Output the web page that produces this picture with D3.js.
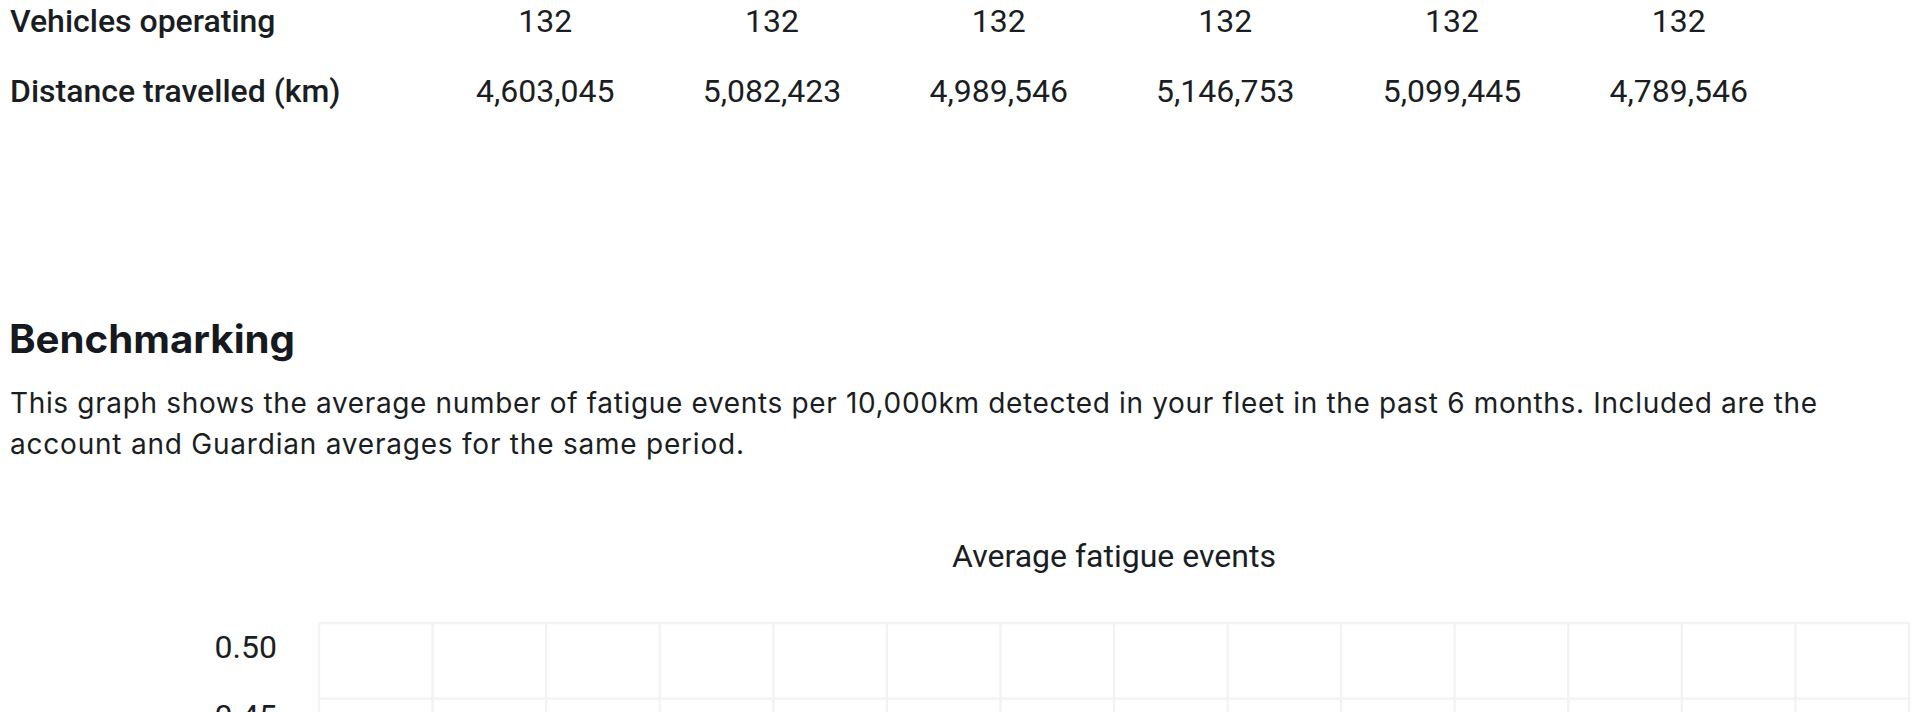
<!DOCTYPE html>
<html>
<head>
<meta charset="utf-8">
<script src="https://cdn.jsdelivr.net/npm/d3@7"></script>
<style>
  html, body { margin: 0; padding: 0; background: #ffffff; width: 1918px; height: 712px; overflow: hidden; }
  svg { display: block; }
</style>
</head>
<body>
<svg id="page" width="1918" height="712"></svg>
<script>
// ---------- data ----------
const rowLabels = ["Vehicles operating", "Distance travelled (km)"];
const vehiclesOperating = [132, 132, 132, 132, 132, 132];
const distanceTravelled = [4603045, 5082423, 4989546, 5146753, 5099445, 4789546];
const sectionTitle = "Benchmarking";
const descriptionLines = [
  "This graph shows the average number of fatigue events per 10,000km detected in your fleet in the past 6 months. Included are the",
  "account and Guardian averages for the same period."
];
const chartTitle = "Average fatigue events";
const yTickValues = [0.45, 0.50];
const xGridSteps = d3.range(0, 15); // 14 grid columns

// ---------- drawing ----------
const ink = "#1a1e23";
const svg = d3.select("#page");

// summary table
const tableRows = [vehiclesOperating, distanceTravelled];
const colX = d3.scaleBand().domain(d3.range(vehiclesOperating.length)).range([432, 1792]);
const rowY = d3.scalePoint().domain(rowLabels).range([32, 101.5]);
const fmt = d3.format(",");

const table = svg.append("g").attr("class", "table");
rowLabels.forEach((label, i) => {
  table.append("text")
    .attr("x", 10).attr("y", rowY(label))
    .attr("font-family", "Roboto").attr("font-weight", 500).attr("font-size", 32)
    .attr("fill", ink)
    .text(label);
  table.selectAll(null).data(tableRows[i]).enter().append("text")
    .attr("x", (d, j) => colX(j) + colX.bandwidth() / 2)
    .attr("y", rowY(label))
    .attr("text-anchor", "middle")
    .attr("font-family", "Roboto").attr("font-size", 32)
    .attr("fill", ink)
    .text(d => fmt(d));
});

// section heading + description
svg.append("text")
  .attr("x", 9).attr("y", 353)
  .attr("font-family", "Inter").attr("font-weight", 700).attr("font-size", 39)
  .attr("fill", "#161a1f")
  .attr("textLength", 286).attr("lengthAdjust", "spacingAndGlyphs")
  .text(sectionTitle);

const descWidths = [1807, 734];
svg.selectAll(".desc").data(descriptionLines).enter().append("text")
  .attr("class", "desc")
  .attr("x", 10).attr("y", (d, i) => 412.5 + i * 41.5)
  .attr("font-family", "Inter").attr("font-size", 28)
  .attr("fill", ink)
  .attr("textLength", (d, i) => descWidths[i]).attr("lengthAdjust", "spacing")
  .text(d => d);

// chart
const plotLeft = 319, plotRight = 1909, plotTop = 623;
const x = d3.scaleLinear().domain([0, 14]).range([plotLeft, plotRight]);
const y = d3.scaleLinear().domain([0.45, 0.50]).range([698.6, plotTop]);
const yLabel = d3.scaleLinear().domain([0.45, 0.50]).range([716.5, 647.5]);

svg.append("text")
  .attr("x", (plotLeft + plotRight) / 2).attr("y", 566.5)
  .attr("text-anchor", "middle")
  .attr("font-family", "Roboto").attr("font-size", 32)
  .attr("fill", ink)
  .text(chartTitle);

const grid = svg.append("g").attr("class", "grid");
grid.selectAll(".vline").data(xGridSteps).enter().append("line")
  .attr("x1", d => x(d)).attr("x2", d => x(d))
  .attr("y1", y(0.50)).attr("y2", 712 + 100)
  .attr("stroke", "#f3f3f3").attr("stroke-width", 2.4);
grid.selectAll(".hline").data(yTickValues).enter().append("line")
  .attr("x1", plotLeft).attr("x2", plotRight)
  .attr("y1", d => y(d)).attr("y2", d => y(d))
  .attr("stroke", "#f3f3f3").attr("stroke-width", 2.4);

const yAxis = svg.append("g")
  .attr("transform", `translate(277,0)`)
  .call(d3.axisLeft(yLabel).tickValues(yTickValues).tickFormat(d3.format(".2f")).tickSize(0).tickPadding(0));
yAxis.select(".domain").remove();
yAxis.selectAll("text")
  .attr("font-family", "Roboto").attr("font-size", 32)
  .attr("fill", ink);
</script>
</body>
</html>
